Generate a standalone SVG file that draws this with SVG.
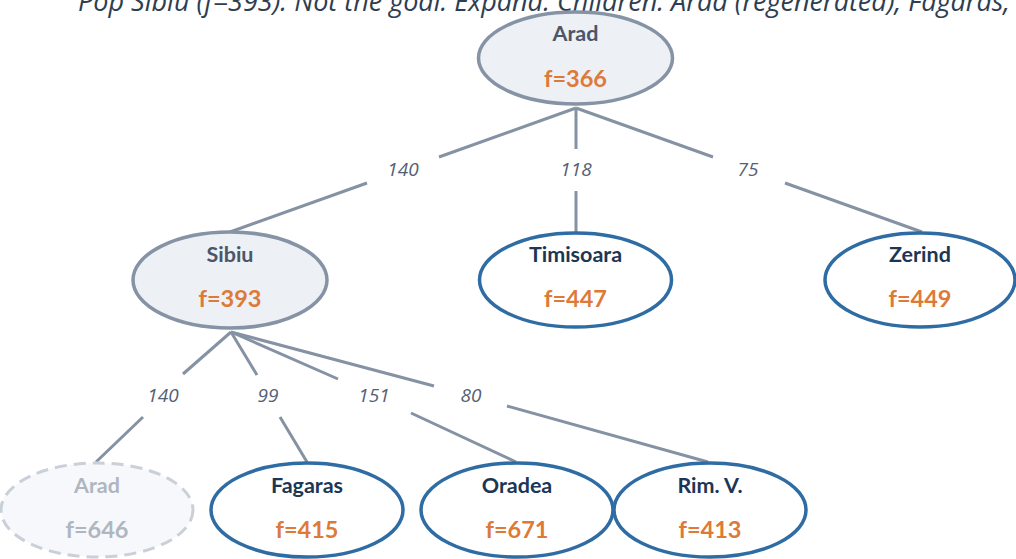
<svg xmlns="http://www.w3.org/2000/svg" width="1016" height="559" viewBox="0 0 1016 559">
  <style>
    .title { font-family: "Open Sans", "Noto Sans", sans-serif; font-style: italic; font-size: 27px; fill: #2e3e52; }
    .edge { stroke: #8592a3; stroke-width: 3; fill: none; }
    .cost { font-family: "Open Sans", "Noto Sans", sans-serif; font-style: italic; font-size: 19px; fill: #556074; text-anchor: middle; }
    .name { font-family: Lato, "Open Sans", sans-serif; font-weight: bold; font-size: 21.5px; text-anchor: middle; }
    .fval { font-family: Lato, "Open Sans", sans-serif; font-weight: bold; font-size: 23.5px; text-anchor: middle; fill: #dd7a38; }
    .expanded ellipse { fill: #edf0f5; stroke: #8593a5; stroke-width: 3.5; }
    .expanded .name { fill: #4b5669; }
    .frontier ellipse { fill: #ffffff; stroke: #2e6ca3; stroke-width: 3.5; }
    .frontier .name { fill: #1c3656; }
    .repeat ellipse { fill: #f7f8fb; stroke: #c9d0d8; stroke-width: 3; stroke-dasharray: 12 7; }
    .repeat .name, .repeat .fval { fill: #aeb6c0; }
  </style>

  <text class="title" x="78" y="11">Pop Sibiu (f=393). Not the goal. Expand. Children: Arad (regenerated), Fagaras,</text>

  <!-- tree edges, broken around their step-cost labels -->
  <g id="edges">
    <line class="edge" x1="576" y1="108" x2="439" y2="157"/>
    <line class="edge" x1="367" y1="183" x2="230" y2="232"/>
    <line class="edge" x1="576" y1="108" x2="576" y2="149"/>
    <line class="edge" x1="576" y1="191" x2="576" y2="232"/>
    <line class="edge" x1="576" y1="108" x2="713" y2="157"/>
    <line class="edge" x1="785" y1="183" x2="922" y2="232"/>

    <line class="edge" x1="231" y1="332" x2="183" y2="374"/>
    <line class="edge" x1="143" y1="417" x2="96" y2="462"/>
    <line class="edge" x1="231" y1="332" x2="257" y2="375"/>
    <line class="edge" x1="280" y1="417" x2="307" y2="462"/>
    <line class="edge" x1="231" y1="332" x2="338" y2="379"/>
    <line class="edge" x1="411" y1="413" x2="516" y2="462"/>
    <line class="edge" x1="231" y1="332" x2="434" y2="386"/>
    <line class="edge" x1="507" y1="406" x2="708" y2="462"/>

    <text class="cost" x="403" y="176">140</text>
    <text class="cost" x="576" y="176">118</text>
    <text class="cost" x="748" y="176">75</text>
    <text class="cost" x="163" y="402">140</text>
    <text class="cost" x="268" y="402">99</text>
    <text class="cost" x="374" y="402">151</text>
    <text class="cost" x="471" y="402">80</text>
  </g>

  <g id="arad-root" class="expanded">
    <ellipse cx="575.5" cy="58" rx="97" ry="46"/>
    <text class="name" x="575.5" y="41">Arad</text>
    <text class="fval" x="575.5" y="87">f=366</text>
  </g>

  <g id="sibiu" class="expanded">
    <ellipse cx="230" cy="280" rx="97" ry="48"/>
    <text class="name" x="230" y="262">Sibiu</text>
    <text class="fval" x="230" y="307">f=393</text>
  </g>

  <g id="timisoara" class="frontier">
    <ellipse cx="575.5" cy="280" rx="96" ry="47"/>
    <text class="name" x="575.5" y="262">Timisoara</text>
    <text class="fval" x="575.5" y="307">f=447</text>
  </g>

  <g id="zerind" class="frontier">
    <ellipse cx="920" cy="280" rx="95" ry="47"/>
    <text class="name" x="920" y="262">Zerind</text>
    <text class="fval" x="920" y="307">f=449</text>
  </g>

  <g id="arad-repeat" class="repeat">
    <ellipse cx="97" cy="510" rx="96" ry="47"/>
    <text class="name" x="97" y="493">Arad</text>
    <text class="fval" x="97" y="538">f=646</text>
  </g>

  <g id="fagaras" class="frontier">
    <ellipse cx="307" cy="510" rx="96" ry="47"/>
    <text class="name" x="307" y="493">Fagaras</text>
    <text class="fval" x="307" y="538">f=415</text>
  </g>

  <g id="oradea" class="frontier">
    <ellipse cx="517" cy="510" rx="96" ry="47"/>
    <text class="name" x="517" y="493">Oradea</text>
    <text class="fval" x="517" y="538">f=671</text>
  </g>

  <g id="rimnicu" class="frontier">
    <ellipse cx="710" cy="510" rx="96" ry="47"/>
    <text class="name" x="710" y="493">Rim. V.</text>
    <text class="fval" x="710" y="538">f=413</text>
  </g>
</svg>
